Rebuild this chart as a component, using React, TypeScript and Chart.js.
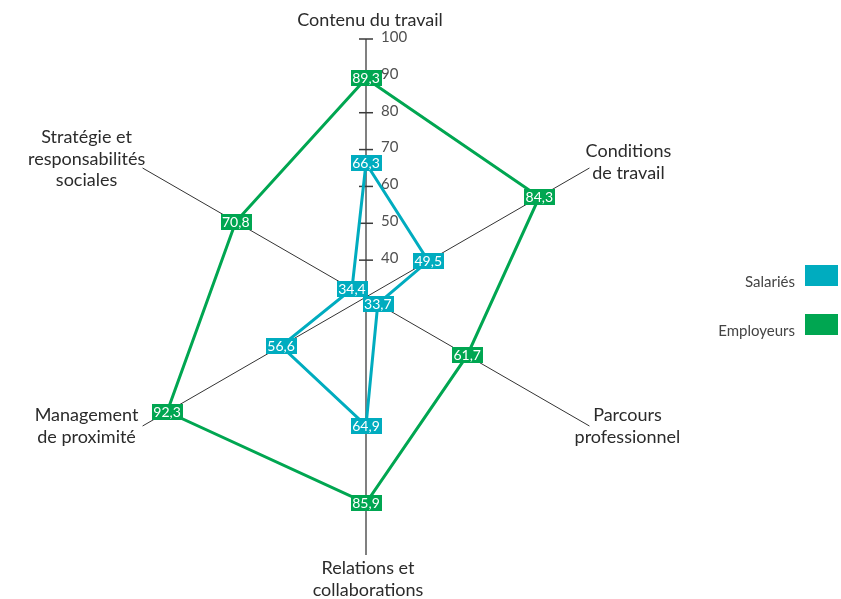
import React, { useEffect, useRef } from "react";
import { Chart, registerables } from "chart.js";

Chart.register(...registerables);

// ---- data ----
const categories: string[][] = [
  ["Contenu du travail"],
  ["Conditions", "de travail"],
  ["Parcours", "professionnel"],
  ["Relations et", "collaborations"],
  ["Management", "de proximité"],
  ["Stratégie et", "responsabilités", "sociales"],
];
const seriesNames = ["Salariés", "Employeurs"];
const salaries = [66.3, 49.5, 33.7, 64.9, 56.6, 34.4];
const employeurs = [89.3, 84.3, 61.7, 85.9, 92.3, 70.8];
const tickLabels = [40, 50, 60, 70, 80, 90, 100];
const scaleMin = 30;
const scaleMax = 100;

// ---- style / layout ----
const CYAN = "#00acbf";
const GREEN = "#00a651";
const FONT = "Lato, 'Open Sans', sans-serif";
const LABEL_OFFSETS: [number, number][] = [
  [4, -19],
  [39, -6],
  [38, 0],
  [2, 24],
  [-56, 0],
  [-56, -9],
];
const LABEL_LINE_H = 21.5;

const fmt = (v: number) => v.toFixed(1).replace(".", ",");

const decorPlugin = {
  id: "decor",
  beforeDatasetsDraw(chart: any) {
    const s = chart.scales.r;
    const ctx = chart.ctx as CanvasRenderingContext2D;
    ctx.save();
    // tick marks + tick labels on the first axis
    tickLabels.forEach((v) => {
      const d = s.getDistanceFromCenterForValue(v);
      const p = s.getPointPosition(0, d);
      ctx.strokeStyle = "#3a3a3a";
      ctx.lineWidth = 1.5;
      ctx.beginPath();
      ctx.moveTo(p.x - 7, p.y);
      ctx.lineTo(p.x + 7, p.y);
      ctx.stroke();
      ctx.fillStyle = "#505050";
      ctx.font = `15px ${FONT}`;
      ctx.textAlign = "left";
      ctx.textBaseline = "middle";
      ctx.fillText(String(v), p.x + 15, p.y - 2);
    });
    // point labels
    ctx.fillStyle = "#2b2b2b";
    ctx.font = `18px ${FONT}`;
    ctx.textAlign = "center";
    ctx.textBaseline = "middle";
    const labels = chart.data.labels as string[][];
    labels.forEach((lines, i) => {
      const p = s.getPointPosition(i, s.drawingArea);
      const [dx, dy] = LABEL_OFFSETS[i];
      const cx = p.x + dx;
      const cy = p.y + dy;
      const top = cy - ((lines.length - 1) * LABEL_LINE_H) / 2;
      lines.forEach((ln, k) => ctx.fillText(ln, cx, top + k * LABEL_LINE_H));
    });
    ctx.restore();
  },
  afterDatasetsDraw(chart: any) {
    const ctx = chart.ctx as CanvasRenderingContext2D;
    ctx.save();
    ctx.font = `14px ${FONT}`;
    ctx.textAlign = "center";
    ctx.textBaseline = "middle";
    chart.data.datasets.forEach((ds: any, di: number) => {
      const meta = chart.getDatasetMeta(di);
      meta.data.forEach((pt: any, i: number) => {
        const txt = fmt(ds.data[i]);
        const w = ctx.measureText(txt).width + 3;
        const h = 16;
        ctx.fillStyle = ds.borderColor;
        ctx.fillRect(Math.round(pt.x - w / 2), Math.round(pt.y - h / 2), Math.round(w), h);
        ctx.fillStyle = "#ffffff";
        ctx.fillText(txt, pt.x, pt.y + 0.5);
      });
    });
    ctx.restore();
  },
  afterDraw(chart: any) {
    const ctx = chart.ctx as CanvasRenderingContext2D;
    ctx.save();
    ctx.font = `15px ${FONT}`;
    ctx.textAlign = "right";
    ctx.textBaseline = "alphabetic";
    const boxW = 33;
    const boxH = 21;
    const boxX = chart.width - 3 - boxW;
    const tops = [265, 314];
    chart.data.datasets.forEach((ds: any, di: number) => {
      const y = tops[di];
      ctx.fillStyle = ds.borderColor;
      ctx.fillRect(boxX, y, boxW, boxH);
      ctx.fillStyle = "#444";
      ctx.fillText(ds.label, boxX - 10, y + boxH + 1);
    });
    ctx.restore();
  },
};

export default function App() {
  const ref = useRef<HTMLCanvasElement>(null);
  useEffect(() => {
    document.body.style.margin = "0";
    const chart = new Chart(ref.current as HTMLCanvasElement, {
      type: "radar",
      data: {
        labels: categories as any,
        datasets: [
          {
            label: seriesNames[0],
            data: salaries,
            borderColor: CYAN,
            backgroundColor: "transparent",
            borderWidth: 3,
            borderJoinStyle: "miter",
            pointRadius: 0,
            fill: false,
          },
          {
            label: seriesNames[1],
            data: employeurs,
            borderColor: GREEN,
            backgroundColor: "transparent",
            borderWidth: 3,
            borderJoinStyle: "miter",
            pointRadius: 0,
            fill: false,
          },
        ],
      },
      options: {
        responsive: false,
        animation: false,
        devicePixelRatio: 1,
        layout: { padding: { left: 108, top: 39, right: 217, bottom: 44 } },
        plugins: { legend: { display: false }, tooltip: { enabled: false } },
        scales: {
          r: {
            min: scaleMin,
            max: scaleMax,
            ticks: { display: false, stepSize: 10 },
            grid: { display: false },
            pointLabels: { display: false },
            angleLines: {
              display: true,
              color: (c: any) => (c.index % 3 === 0 ? "#808080" : "#333333"),
              lineWidth: (c: any) => (c.index % 3 === 0 ? 2 : 1),
            },
          },
        },
      },
      plugins: [decorPlugin],
    } as any);
    return () => chart.destroy();
  }, []);
  return (
    <div style={{ position: "absolute", left: 0, top: 0, width: 841, height: 599, background: "#fff" }}>
      <canvas ref={ref} width={841} height={599} style={{ display: "block", width: 841, height: 599 }} />
    </div>
  );
}
